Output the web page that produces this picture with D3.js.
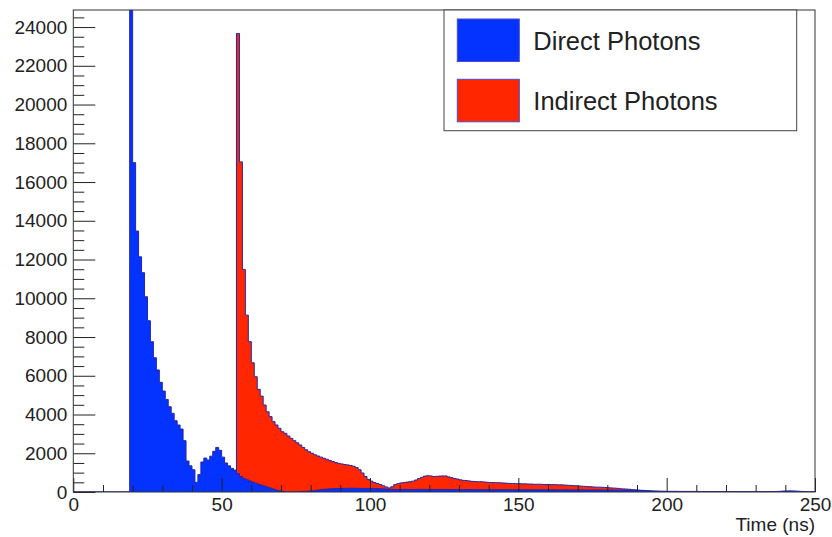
<!DOCTYPE html>
<html>
<head>
<meta charset="utf-8">
<script src="https://cdn.jsdelivr.net/npm/d3@7"></script>
<style>
  body { margin: 0; background: #fff; }
  text { font-family: "Liberation Sans", Arial, Helvetica, sans-serif; fill: #222; }
</style>
</head>
<body>
<script>
"use strict";

// Data (1 ns bins)

let nBins = 250;
let seriesNames = ["Direct Photons", "Indirect Photons"];

let directFirstBin = 19;
let directCounts = [
  31000, 17000, 13470, 12140, 11320, 10080, 8840, 7760, 6930, 6300,   // 19-28
  5660, 5210, 4780, 4400, 4060, 3680, 3460, 3250, 2650, 1600,          // 29-38
  1350, 1150, 500, 900, 1550, 1750, 1650, 1850, 2100, 2300,            // 39-48
  2150, 1800, 1500, 1350, 1220, 1130, 950, 800, 700, 630,              // 49-58
  570, 510, 450, 400, 350, 300, 250, 200, 150, 100,                    // 59-68
  60, 30, 10, 0, 0, 5, 10, 20, 30, 40,                                 // 69-78
  50, 60, 80, 100, 120, 140, 150, 160, 170, 175,                       // 79-88
  180, 185, 190, 190, 195, 195, 190, 190, 185, 185,                    // 89-98
  180, 180, 175, 170, 165, 160, 150, 140, 135, 130,                    // 99-108
  130, 130, 135, 135, 130, 130, 130, 135, 135, 130,                    // 109-118
  130, 130, 130, 125, 125, 125, 130, 130, 125, 125,                    // 119-128
  125, 120, 120, 120, 125, 125, 120, 120, 120, 120,                    // 129-138
  120, 120, 115, 115, 120, 120, 115, 115, 115, 115,                    // 139-148
  115, 115, 115, 110, 110, 115, 115, 110, 110, 110,                    // 149-158
  110, 110, 110, 110, 105, 105, 110, 110, 105, 105,                    // 159-168
  105, 105, 105, 100, 100, 105, 105, 100, 100, 100,                    // 169-178
  100, 100, 100, 95, 95, 95, 90, 90, 85, 80,                           // 179-188
  75, 70, 65, 60, 55, 50, 45, 45, 40, 40,                              // 189-198
  40, 35, 35, 35, 35, 30, 30, 30, 30, 30,                              // 199-208
  30, 30, 25, 25, 25, 25, 25, 25, 25, 20,                              // 209-218
  20, 20, 20, 20, 20, 20, 20, 20, 20, 20,                              // 219-228
  20, 20, 20, 20, 20, 20, 20, 25, 30, 40,                              // 229-238
  50, 55, 60, 55, 50, 40, 30, 20, 15, 10,                              // 239-248
  10                                                                   // 249
];

let indirectFirstBin = 55;
let indirectCounts = [
  23670, 17040, 11490, 9130, 7760, 6670, 5950, 5300, 4950, 4490,       // 55-64
  4140, 3890, 3630, 3460, 3290, 3110, 3030, 2890, 2770, 2650,          // 65-74
  2540, 2430, 2300, 2180, 2080, 2000, 1920, 1860, 1800, 1740,          // 75-84
  1690, 1630, 1570, 1520, 1480, 1450, 1420, 1400, 1370, 1330,          // 85-94
  1260, 1150, 980, 800, 650, 560, 490, 440, 390, 320,                  // 95-104
  260, 210, 270, 380, 430, 470, 490, 510, 530, 560,                    // 105-114
  620, 690, 760, 820, 840, 830, 800, 810, 820, 830,                    // 115-124
  830, 780, 740, 700, 670, 630, 600, 590, 570, 550,                    // 125-134
  540, 530, 530, 520, 500, 490, 490, 480, 480, 470,                    // 135-144
  460, 450, 440, 440, 430, 430, 420, 420, 410, 410,                    // 145-154
  400, 400, 400, 390, 390, 390, 380, 380, 370, 370,                    // 155-164
  360, 350, 340, 330, 320, 310, 300, 290, 280, 270,                    // 165-174
  260, 250, 250, 240, 230, 220, 210, 200, 190, 170,                    // 175-184
  160, 150, 140, 120, 110, 100, 90, 80, 70, 60,                        // 185-194
  50, 40, 35, 30, 25, 20                                               // 195-200
];

let xTicks = [0, 50, 100, 150, 200, 250];
let yTicks = [0, 2000, 4000, 6000, 8000, 10000, 12000, 14000, 16000, 18000, 20000, 22000, 24000];
let xTitle = "Time (ns)";

// Layout

let svgWidth = 832;
let svgHeight = 537;
let frame = {left: 73.3, top: 10, right: 815, bottom: 492};
let yMax = 24880;

let blueFill = "#0433ff";
let redFill = "#ff2600";
let histLine = "#2626a6";

let xScale = d3.scaleLinear()
    .domain([0, nBins])
    .range([frame.left, frame.right]);

let yScale = d3.scaleLinear()
    .domain([0, yMax])
    .range([frame.bottom, frame.top]);

let svg = d3.select("body")
    .append("svg")
    .attr("width", svgWidth)
    .attr("height", svgHeight);

svg.append("defs")
    .append("clipPath")
    .attr("id", "frameClip")
    .append("rect")
    .attr("x", frame.left)
    .attr("y", frame.top)
    .attr("width", frame.right - frame.left)
    .attr("height", frame.bottom - frame.top);

// Histograms

function binsOf(first, counts) {
    let pts = d3.range(0, nBins).map(i => [i, counts[i - first] || 0]);
    pts.push([nBins, pts[nBins - 1][1]]);
    return pts;
}

let area = d3.area()
    .curve(d3.curveStepAfter)
    .x(d => xScale(d[0]))
    .y0(yScale(0))
    .y1(d => yScale(d[1]));

let line = d3.line()
    .curve(d3.curveStepAfter)
    .x(d => xScale(d[0]))
    .y(d => yScale(d[1]));

let plot = svg.append("g")
    .attr("clip-path", "url(#frameClip)");

[[indirectFirstBin, indirectCounts, redFill], [directFirstBin, directCounts, blueFill]]
    .forEach(([first, counts, fill]) => {
        let pts = binsOf(first, counts);
        plot.append("path")
            .attr("d", area(pts))
            .attr("fill", fill);
        plot.append("path")
            .attr("d", line(pts))
            .attr("fill", "none")
            .attr("stroke", histLine)
            .attr("stroke-width", 1);
    });

// Axes

let minorY = d3.range(0, yMax, 500).filter(v => v % 2000 != 0);
let minorX = d3.range(0, nBins + 1, 10).filter(v => v % 50 != 0);

let yAxisG = svg.append("g")
    .attr("transform", `translate(${frame.left}, 0)`);

yAxisG.append("g")
    .call(d3.axisLeft(yScale).tickValues(minorY).tickSize(-11).tickFormat(""));

yAxisG.append("g")
    .call(d3.axisLeft(yScale).tickValues(yTicks).tickSize(-22).tickPadding(6).tickFormat(d3.format("d")));

let xAxisG = svg.append("g")
    .attr("transform", `translate(0, ${frame.bottom})`);

xAxisG.append("g")
    .call(d3.axisBottom(xScale).tickValues(minorX).tickSize(-7).tickFormat(""));

xAxisG.append("g")
    .call(d3.axisBottom(xScale).tickValues(xTicks).tickSize(-14).tickPadding(6).tickFormat(d3.format("d")));

svg.selectAll(".domain").remove();
svg.selectAll(".tick line")
    .attr("stroke", "#222")
    .attr("stroke-width", 1);
svg.selectAll(".tick text")
    .attr("fill", "#222")
    .style("font-size", "19px");

svg.append("rect")
    .attr("x", frame.left)
    .attr("y", frame.top)
    .attr("width", frame.right - frame.left)
    .attr("height", frame.bottom - frame.top)
    .attr("fill", "none")
    .attr("stroke", "#333")
    .attr("stroke-width", 1);

svg.append("text")
    .attr("x", frame.right)
    .attr("y", 531)
    .attr("text-anchor", "end")
    .style("font-size", "19px")
    .text(xTitle);

// Legend

let legend = svg.append("g");

legend.append("rect")
    .attr("x", 444)
    .attr("y", 10)
    .attr("width", 352.7)
    .attr("height", 120.7)
    .attr("fill", "#fff")
    .attr("stroke", "#444")
    .attr("stroke-width", 1);

[blueFill, redFill].forEach((fill, i) => {
    let top = 19 + i * 60.3;
    legend.append("rect")
        .attr("x", 457.3)
        .attr("y", top)
        .attr("width", 62)
        .attr("height", 42.5)
        .attr("fill", fill)
        .attr("stroke", "#4b4bc8")
        .attr("stroke-width", 1);
    legend.append("text")
        .attr("x", 533.3)
        .attr("y", top + 31)
        .style("font-size", "25.5px")
        .text(seriesNames[i]);
});
</script>
</body>
</html>
